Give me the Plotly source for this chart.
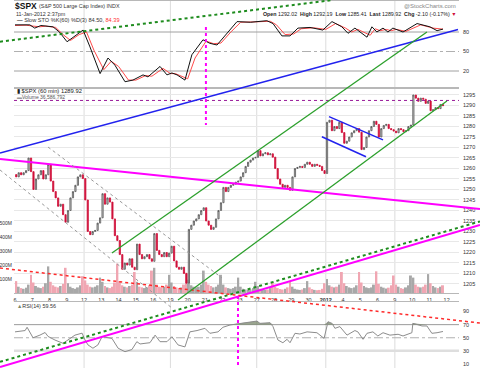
import plotly.graph_objects as go

W, H = 480, 368
FONT = "Liberation Sans"

# ---------------- data ----------------
day_labels = ['6', '7', '8', '9', '12', '13', '14', '15', '16', '19', '20', '21', '22', '23',
              '27', '28', '29', '30', '<b>2012</b>', '4', '5', '6', '9', '10', '11', '12']
week_start_days = [4, 9, 14, 18, 22]
bars_per_day = 7
prior_close = 1257.1

# hourly closes, one list per trading day (Dec 6 2011 .. Jan 11 2012)
closes_by_day = [
    [1256, 1258, 1257, 1258, 1259, 1265, 1258.5],        # Dec 6
    [1250, 1255, 1257, 1259, 1255, 1257, 1262],          # Dec 7
    [1254, 1249, 1246, 1242, 1243, 1238, 1234.4],        # Dec 8
    [1240, 1246, 1249, 1252, 1256, 1257, 1255.2],        # Dec 9
    [1245, 1230, 1228.5, 1230, 1230.5, 1234, 1236.5],    # Dec 12
    [1248, 1243, 1246, 1244, 1236, 1228, 1225.7],        # Dec 13
    [1219, 1212, 1215, 1214, 1217, 1213, 1211.8],        # Dec 14
    [1224, 1219, 1217, 1218, 1219, 1217, 1215.8],        # Dec 15
    [1229, 1221, 1219, 1218, 1220, 1218, 1219.7],        # Dec 16
    [1223, 1216, 1213, 1212, 1213, 1210, 1205.4],        # Dec 19
    [1231, 1233, 1235, 1236, 1238, 1240, 1241.3],        # Dec 20
    [1235, 1233, 1231, 1232, 1236, 1240, 1243.7],        # Dec 21
    [1251, 1249, 1251, 1252, 1252.5, 1253.5, 1254],      # Dec 22
    [1256, 1258, 1261, 1263, 1264, 1265, 1265.3],        # Dec 23
    [1268.5, 1266, 1267, 1267.5, 1266.5, 1267, 1265.4],  # Dec 27
    [1260, 1255, 1252.5, 1251, 1252, 1251, 1249.6],      # Dec 28
    [1256, 1260, 1260.5, 1261, 1260.5, 1262, 1263],      # Dec 29
    [1262, 1261, 1262, 1261.5, 1261, 1259, 1257.6],      # Dec 30
    [1282, 1283, 1278, 1280, 1279, 1282, 1277.1],        # Jan 3
    [1272, 1273, 1275, 1277, 1278, 1279, 1277.3],        # Jan 4
    [1269, 1270, 1275, 1278, 1280, 1282.5, 1281],        # Jan 5
    [1275, 1279, 1280.5, 1281, 1279, 1278.5, 1277.8],    # Jan 6
    [1277, 1279, 1278.5, 1277.5, 1278, 1280, 1280.7],    # Jan 9
    [1295, 1293.5, 1292, 1293.5, 1293, 1291, 1292.1],    # Jan 10
    [1287.5, 1288, 1289, 1288.5, 1290.5, 1289.9],        # Jan 11
]

# hourly volume in millions
volumes_by_day = [
    [85, 45, 35, 30, 38, 60, 130], [75, 50, 40, 35, 45, 70, 190],
    [80, 55, 45, 40, 50, 65, 180], [70, 45, 35, 30, 40, 55, 120],
    [90, 60, 45, 40, 45, 55, 110], [80, 50, 40, 35, 45, 75, 210],
    [85, 55, 45, 40, 50, 60, 150], [80, 45, 40, 35, 40, 55, 160],
    [180, 60, 45, 40, 45, 60, 130], [75, 50, 40, 35, 40, 60, 145],
    [95, 55, 45, 40, 45, 60, 160], [80, 60, 50, 40, 45, 60, 130],
    [60, 40, 35, 30, 35, 45, 110], [45, 30, 25, 22, 25, 35, 80],
    [50, 30, 25, 22, 25, 35, 75], [45, 35, 28, 25, 30, 40, 80],
    [45, 30, 25, 22, 25, 35, 85], [40, 28, 22, 20, 22, 30, 70],
    [100, 55, 45, 40, 45, 60, 150], [70, 50, 40, 35, 40, 55, 150],
    [75, 50, 40, 35, 40, 60, 155], [65, 45, 38, 32, 38, 55, 125],
    [60, 45, 35, 30, 40, 55, 125], [110, 60, 45, 40, 45, 60, 135],
    [70, 50, 40, 35, 45, 55],
]

# Slow stochastic %K(60) and %D(3), sampled at bar positions
stoch_k_idx = [-0.5, 3, 5.5, 7.5, 10, 14.9, 17.5, 20.6, 24, 27.1, 29.9, 34, 37.2, 40, 44.1, 47.3,
               51.4, 53.4, 58.3, 61.1, 63.1, 65.2, 68.4, 71.2, 75.7, 78.5, 81.4, 85.4, 89.5, 95,
               101.6, 104.1, 107.7, 111, 114.2, 119.1, 124.3, 128, 132, 134.5, 137.3, 142.2,
               144.2, 146.2, 148.7, 150.7, 152.7, 156.8, 162.5, 167.7, 170.6, 173]
stoch_k_val = [91, 91, 91, 86, 90, 88, 80, 65, 75, 83, 57, 16, 40, 29, 3.5, 6,
               14, 11, 27, 14, 17, 14, 6, 45, 68, 62.6, 60, 78, 96, 95,
               97.4, 93, 74, 74, 86, 87, 83, 96, 88, 78, 86, 72,
               88, 80, 86, 80, 86, 80, 93, 88, 82, 84.5]
stoch_d_idx = [-0.5, 4, 7, 9.5, 12, 16, 19, 22, 25.5, 28.5, 31.5, 35.5, 38.5, 41.5, 45.5, 48.5,
               52.5, 55, 59.5, 62.5, 64.5, 67, 69.5, 72.5, 77, 80, 83, 87, 91, 96,
               103, 105.5, 109, 112.5, 115.5, 120.5, 125.5, 129.5, 133.5, 136, 138.5, 143.5,
               145.5, 147.5, 150, 152, 154, 158, 164, 169, 172, 173]
stoch_d_val = [90, 90.5, 89, 88, 89, 87, 76, 67, 76, 80, 52, 22, 35, 27, 6, 6,
               13, 12, 24, 16, 16, 12, 8, 40, 66, 62, 63, 80, 95, 95.5,
               96.5, 91, 76, 77, 85, 86.5, 84, 93, 86, 80, 84, 75,
               85, 82, 84, 82, 84, 81, 91, 86, 84, 84.4]

# RSI(14)
rsi_idx = [-0.5, 3.6, 4.4, 6.8, 9.6, 11.7, 12.9, 15.7, 19, 21, 23.8, 26.7, 27.9, 29.1, 31.1, 33.1,
           34.8, 38.8, 41.3, 44.1, 46.9, 48.9, 50.2, 52.2, 54.2, 56.3, 58.3, 61.1, 63.1, 65.6,
           68.4, 70.4, 73.3, 76.5, 78.5, 81.8, 83.8, 86.7, 90.7, 94.8, 97.6, 98.8, 102.9, 104.1,
           106.1, 108.1, 109.8, 111, 113, 115, 117.9, 121.9, 124.8, 126.4, 128, 129.2, 131.2,
           134.1, 137.3, 138.5, 140.6, 142.2, 144.6, 146.6, 148.7, 151.5, 154.8, 156.8, 160.4,
           160.8, 164.5, 166.5, 168.5, 170.6, 173]
rsi_val = [59, 61, 66, 50, 54, 58, 52, 46.5, 41.5, 46.5, 54, 57, 46.5, 39, 34, 39,
           51.6, 49, 34, 28.7, 32, 44, 40.5, 41.5, 42.4, 54, 44, 44, 51.6, 39,
           36, 59, 61, 64.4, 56.8, 59, 66, 69.5, 72, 74.5, 75.5, 72, 73, 67,
           46.5, 42.4, 47.6, 42.4, 56.8, 55.7, 59, 57.7, 49, 74.5, 72, 64.4, 67,
           54, 61, 59, 47.6, 56.8, 59, 52.7, 57.7, 54, 55.3, 52.7, 57.7,
           72, 68, 68, 56.8, 57.7, 59.56]

# hand-drawn chart annotations, in data units: (panel, bar0, val0, bar1, val1, colour, width, dash)
trend_lines = [
    ('sto', -6.58, 65.1, 128.4, 129.2, '#1e8c1e', 2, 'dot'),
    ('prc', -6.58, 1267.4, 179.1, 1326.2, '#2222ee', 1.5, 'solid'),
    ('prc', -6.58, 1264.5, 188.0, 1240.7, '#ff00ff', 2, 'solid'),
    ('prc', -6.58, 1165.5, 188.0, 1233.1, '#ff00ff', 2, 'solid'),
    ('prc', -6.58, 1167.9, 188.0, 1234.8, '#1e8c1e', 2, 'dot'),
    ('prc', -6.58, 1212.6, 188.0, 1186.4, '#ff2a2a', 1.5, 'dot'),
    ('prc', 12.9, 1270.2, 83.4, 1207.9, '#999999', 1, 'dot'),
    ('prc', -6.58, 1259.3, 63.1, 1193.6, '#999999', 1, 'dot'),
    ('prc', 38.8, 1219.8, 166.5, 1325.0, '#2ca02c', 1.3, 'solid'),
    ('prc', 65.6, 1197.4, 174.6, 1292.1, '#2ca02c', 1.3, 'solid'),
    ('prc', 126.8, 1284.7, 148.7, 1273.6, '#2222ee', 1.5, 'solid'),
    ('prc', 123.9, 1275.1, 141.8, 1265.6, '#2222ee', 1.5, 'solid'),
]
marker_level = 1292.4
vline_top = (76.9, 87.7, 1280.7)      # bar, stoch value at top, price at bottom
vline_bottom = (89.9, 1199.3, 0.0)    # bar, price at top, rsi value at bottom

# ---------------- geometry ----------------
L_PX, R_PX = 14, 459
STO_TOP, STO_BOT = 1, 88
PRC_TOP, PRC_BOT = 88, 293
RSI_TOP, RSI_BOT = 302, 368
X_RANGE = [-0.905, 179.5]
STO_RANGE = [-6.15, 127.7]
PRICE_RANGE = [1200.71, 1298.33]
VOL_RANGE = [0, 1464]
RSI_RANGE = [3.8, 104.6]
PANELS = {'sto': (STO_RANGE, STO_TOP, STO_BOT), 'prc': (PRICE_RANGE, PRC_TOP, PRC_BOT),
          'rsi': (RSI_RANGE, RSI_TOP, RSI_BOT)}


def dom(top, bot):
    return [1 - bot / H, 1 - top / H]


def xp(i):
    return (i - X_RANGE[0]) / (X_RANGE[1] - X_RANGE[0])


def yp(v, panel):
    rng, top, bot = PANELS[panel]
    frac = (v - rng[0]) / (rng[1] - rng[0])
    return 1 - (bot - frac * (bot - top)) / H


def px(x):
    return (x - L_PX) / (R_PX - L_PX)


def py(y):
    return 1 - y / H


# ---------------- derived series ----------------
closes = [c for d in closes_by_day for c in d]
volumes = [v for d in volumes_by_day for v in d]
idx = list(range(len(closes)))
opens = [prior_close] + closes[:-1]
highs = [max(o, c) for o, c in zip(opens, closes)]
lows = [min(o, c) for o, c in zip(opens, closes)]
vol_colors = ['#a8a8a8' if c >= o else '#f0a6b2' for o, c in zip(opens, closes)]
tick_pos = [d * bars_per_day - 0.5 for d in range(len(day_labels))]
week_pos = [d * bars_per_day - 0.5 for d in week_start_days]

fig = go.Figure()

# volume (base axis of price panel)
fig.add_trace(go.Bar(x=idx, y=volumes, marker=dict(color=vol_colors, line=dict(width=0)),
                     xaxis='x', yaxis='y2', showlegend=False, hoverinfo='skip'))
# price candles (overlay)
fig.add_trace(go.Candlestick(x=idx, open=opens, high=highs, low=lows, close=closes,
                             xaxis='x', yaxis='y3', showlegend=False, whiskerwidth=0,
                             increasing=dict(line=dict(color='#555555', width=0.8), fillcolor='#d4d4d4'),
                             decreasing=dict(line=dict(color='#d0103a', width=0.8), fillcolor='#d0103a')))

# stochastic
fig.add_trace(go.Scatter(x=stoch_d_idx, y=stoch_d_val, mode='lines', line=dict(color='#ff4a4a', width=1),
                         xaxis='x2', yaxis='y', showlegend=False, hoverinfo='skip'))
fig.add_trace(go.Scatter(x=stoch_k_idx, y=stoch_k_val, mode='lines', line=dict(color='#111111', width=1),
                         xaxis='x2', yaxis='y', showlegend=False, hoverinfo='skip'))

# RSI with fill above 70
fig.add_trace(go.Scatter(x=rsi_idx, y=[70] * len(rsi_idx), mode='lines', line=dict(width=0),
                         xaxis='x3', yaxis='y4', showlegend=False, hoverinfo='skip'))
fig.add_trace(go.Scatter(x=rsi_idx, y=[max(v, 70) for v in rsi_val], mode='lines', line=dict(width=0),
                         fill='tonexty', fillcolor='rgba(120,135,105,0.75)',
                         xaxis='x3', yaxis='y4', showlegend=False, hoverinfo='skip'))
fig.add_trace(go.Scatter(x=rsi_idx, y=rsi_val, mode='lines', line=dict(color='#8c8c8c', width=1),
                         xaxis='x3', yaxis='y4', showlegend=False, hoverinfo='skip'))

shapes = []
# week grid lines in each panel
for w in week_pos:
    for yr in ['y domain', 'y2 domain', 'y4 domain']:
        xr = {'y domain': 'x2', 'y2 domain': 'x', 'y4 domain': 'x3'}[yr]
        shapes.append(dict(type='line', xref=xr, yref=yr, x0=w, x1=w, y0=0, y1=1,
                           line=dict(color='#dcdcdc', width=1), layer='below'))
# indicator reference levels
for lvl, dash, col, wd in [(80, 'solid', '#a0a0a0', 1), (20, 'solid', '#a0a0a0', 1), (50, 'dashdot', '#b0b0b0', 1)]:
    shapes.append(dict(type='line', xref='x2 domain', yref='y', x0=0, x1=1, y0=lvl, y1=lvl,
                       line=dict(color=col, width=wd, dash=dash), layer='below'))
for lvl, dash, col, wd in [(70, 'solid', '#9a9a9a', 1), (30, 'solid', '#dedede', 2.5), (50, 'dashdot', '#b0b0b0', 1)]:
    shapes.append(dict(type='line', xref='x3 domain', yref='y4', x0=0, x1=1, y0=lvl, y1=lvl,
                       line=dict(color=col, width=wd, dash=dash), layer='below'))
# marker level
shapes.append(dict(type='line', xref='x domain', yref='y3', x0=0, x1=1, y0=marker_level, y1=marker_level,
                   line=dict(color='#9a1a9a', width=1, dash='dot'), layer='above'))
# trend lines
for pnl, i0, v0, i1, v1, col, wd, dash in trend_lines:
    shapes.append(dict(type='line', xref='paper', yref='paper', x0=xp(i0), y0=yp(v0, pnl),
                       x1=xp(i1), y1=yp(v1, pnl), line=dict(color=col, width=wd, dash=dash), layer='above'))
# vertical markers
b, vt, pb = vline_top
shapes.append(dict(type='line', xref='paper', yref='paper', x0=xp(b), x1=xp(b), y0=yp(vt, 'sto'),
                   y1=yp(pb, 'prc'), line=dict(color='#ff00ff', width=2, dash='dot'), layer='above'))
b, pt, rb = vline_bottom
shapes.append(dict(type='line', xref='paper', yref='paper', x0=xp(b), x1=xp(b), y0=yp(pt, 'prc'),
                   y1=yp(rb, 'rsi'), line=dict(color='#ff00ff', width=2, dash='dot'), layer='above'))

ann = []


def text(x, y, s, size=5.5, color='#222222', anchor='left'):
    ann.append(dict(x=px(x), y=py(y), xref='paper', yref='paper', text=s, showarrow=False,
                    xanchor=anchor, yanchor='middle', font=dict(family=FONT, size=size, color=color)))


text(13, 6, '<b>$SPX</b>', size=8.5, color='#111111')
text(37, 6.5, '(S&P 500 Large Cap Index) INDX', size=5.4, color='#333333')
text(14, 13.5, '11-Jan-2012 2:37pm', size=5.4, color='#333333')
text(15, 20, '<b>—</b> Slow STO %K(60) %D(3) 84.50, <span style="color:#ff3030">84.39</span>',
     size=5.6, color='#333333')
text(458, 6, '@StockCharts.com', size=6, color='#888888', anchor='right')
text(458, 14, '<b>Open</b> 1292.02  <b>High</b> 1292.19  <b>Low</b> 1285.41  <b>Last</b> 1289.92  '
     '<b>Chg</b> -2.10 (-0.17%) <span style="color:#d0103a">▼</span>', size=5.3, color='#222222', anchor='right')
text(15, 91, '▮ $SPX (60 min) 1289.92', size=5.8, color='#222222')
text(15, 97, '<span style="color:#999999">▬</span>Volume 36,586,792', size=5, color='#555555')
text(15, 305.5, '<span style="color:#7a8a6a">▲</span>RSI(14) 59.56', size=5.4, color='#333333')

tick_font = dict(family=FONT, size=5.5, color='#333333')
common_x = dict(range=X_RANGE, showgrid=False, zeroline=False, showline=True, linecolor='#b8b8b8',
                mirror=True, ticks='', automargin=False)

fig.update_layout(
    width=W, height=H, margin=dict(l=L_PX, r=W - R_PX, t=0, b=0),
    paper_bgcolor='white', plot_bgcolor='white', showlegend=False, bargap=0.2,
    xaxis=dict(**common_x, anchor='y2', tickmode='array', tickvals=tick_pos, ticktext=day_labels,
               tickfont=tick_font, ticklabelstandoff=1, rangeslider=dict(visible=False)),
    xaxis2=dict(**common_x, anchor='y', matches='x', showticklabels=False),
    xaxis3=dict(**common_x, anchor='y4', matches='x', showticklabels=False),
    yaxis=dict(domain=dom(STO_TOP, STO_BOT), range=STO_RANGE, side='right', anchor='x2',
               tickvals=[20, 50, 80], tickfont=tick_font, showgrid=False, zeroline=False,
               showline=False, ticks='', automargin=False, ticklabelstandoff=3),
    yaxis2=dict(domain=dom(PRC_TOP, PRC_BOT), range=VOL_RANGE, side='left', anchor='x',
                tickvals=[100, 200, 300, 400, 500], ticktext=['100M', '200M', '300M', '400M', '500M'],
                tickfont=dict(family=FONT, size=5, color='#333333'), showgrid=False, zeroline=False,
                showline=False, ticks='', automargin=False, ticklabelstandoff=1),
    yaxis3=dict(domain=dom(PRC_TOP, PRC_BOT), range=PRICE_RANGE, side='right', anchor='x',
                overlaying='y2', tickvals=list(range(1205, 1296, 5)), tickfont=tick_font,
                showgrid=True, gridcolor='#e8e8e8', gridwidth=1, zeroline=False, showline=False,
                ticks='', automargin=False, ticklabelstandoff=3),
    yaxis4=dict(domain=dom(RSI_TOP, RSI_BOT), range=RSI_RANGE, side='right', anchor='x3',
                tickvals=[10, 30, 50, 70, 90], tickfont=tick_font, showgrid=False, zeroline=False,
                showline=False, ticks='', automargin=False, ticklabelstandoff=3),
    shapes=shapes, annotations=ann,
)

fig.write_html("out.html", config={'displayModeBar': False},
               post_script="document.body.style.margin='0';document.body.style.padding='0';")
